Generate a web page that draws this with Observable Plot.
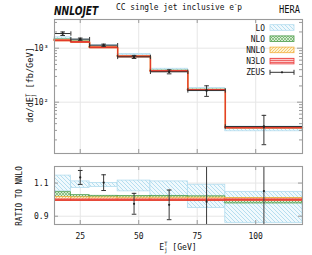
<!DOCTYPE html>
<html><head><meta charset="utf-8">
<script src="https://cdn.jsdelivr.net/npm/d3@7"></script>
<script src="https://cdn.jsdelivr.net/npm/@observablehq/plot@0.6"></script>
<style>
body{margin:0;background:#fff;}
#wrap{position:relative;width:312px;height:255px;overflow:hidden;font-family:"DejaVu Sans Mono",monospace;color:#111;background:#fff;}
#wrap svg.p{position:absolute;left:0;}
</style></head><body>
<svg width="0" height="0" style="position:absolute">
<defs>
<pattern id="pLO" patternUnits="userSpaceOnUse" width="4" height="4"><rect width="4" height="4" fill="#f0f9fd"/><path d="M0,0L4,4M-1,3L1,5M3,-1L5,1" stroke="#a6d7eb" stroke-width="0.8"/></pattern>
<pattern id="pNLO" patternUnits="userSpaceOnUse" width="3" height="3"><rect width="3" height="3" fill="#d9edd5"/><path d="M0,0L3,3M3,0L0,3" stroke="#5aa657" stroke-width="0.6"/></pattern>
<pattern id="pNNLO" patternUnits="userSpaceOnUse" width="3" height="3"><rect width="3" height="3" fill="#fdf1d2"/><path d="M0,3L3,0M-1,1L1,-1M2,4L4,2" stroke="#f1b845" stroke-width="0.7"/></pattern>
<pattern id="pN3LO" patternUnits="userSpaceOnUse" width="2" height="2"><rect width="2" height="2" fill="#fbcaca"/><path d="M0,0.5H2" stroke="#ee4d4d" stroke-width="0.8"/></pattern>
</defs></svg>
<div id="wrap"></div>
<script>
// ---- data ----
const edges = [14, 21, 29, 41, 55, 71, 87, 120];
const xTicks = [25, 50, 75, 100];
const yMajor = [100, 1000];
const yMajorLabels = ["10²", "10³"];
const yMinor = [20, 30, 40, 50, 60, 70, 80, 90, 200, 300, 400, 500, 600, 700, 800, 900, 2000, 3000];
const rTicks = [0.9, 1.1];

// top panel, dσ/dE [fb/GeV]
const nnlo     = [1390, 1300, 1030, 702, 375, 167, 33.6];
const n3lo     = [1386, 1296, 1027, 700, 374, 166.5, 33.5];
const loLow    = [1460, 1391, 1108, 737, 384, 159, 28.9];
const loHigh   = [1585, 1443, 1133, 783, 416, 182, 35.2];
const nloLow   = [1404, 1318, 1042, 709, 379, 167.7, 32.8];
const nloHigh  = [1450, 1335, 1054, 717, 383, 170.3, 33.9];
const nnloLow  = [1380, 1291, 1023, 697, 372, 166, 33.4];
const nnloHigh = [1411, 1319, 1045, 712, 380, 169.2, 34.1];
const n3loLow  = [1379, 1290, 1022, 697, 372, 165.7, 33.3];
const n3loHigh = [1393, 1303, 1033, 704, 376, 167.5, 33.7];
const zeus     = [1870, 1470, 1136, 690, 365, 165, 35.4];
const zeusLow  = [1720, 1400, 1080, 645, 335, 128, 16.3];
const zeusHigh = [2000, 1540, 1190, 735, 398, 201, 57];

// ratio panel (to NNLO)
const rLoLow    = [1.05, 1.07, 1.076, 1.05, 1.023, 0.95, 0.86];
const rLoHigh   = [1.145, 1.11, 1.10, 1.115, 1.11, 1.09, 1.047];
const rNloLow   = [1.012, 1.014, 1.012, 1.01, 1.01, 1.004, 0.977];
const rNloHigh  = [1.045, 1.027, 1.023, 1.022, 1.022, 1.02, 1.008];
const rNnloLow  = [0.993, 0.993, 0.993, 0.993, 0.993, 0.993, 0.993];
const rNnloHigh = [1.016, 1.014, 1.013, 1.012, 1.012, 1.012, 1.01];
const rN3lo     = [0.997, 0.997, 0.997, 0.997, 0.997, 0.997, 0.998];
const rN3loLow  = [0.992, 0.992, 0.992, 0.992, 0.992, 0.992, 0.993];
const rN3loHigh = [1.002, 1.002, 1.002, 1.002, 1.002, 1.002, 1.003];
const rZeus     = [1.35, 1.134, 1.103, 0.975, 0.969, 0.988, 1.052];
const rZeusLow  = [1.28, 1.092, 1.055, 0.912, 0.879, 0.77, 0.49];
const rZeusHigh = [1.42, 1.176, 1.15, 1.038, 1.058, 1.21, 1.70];

// ---- tables ----
const bins = edges.slice(0, -1).map((e, i) => ({
  x1: e, x2: edges[i + 1], xc: (e + edges[i + 1]) / 2,
  loLow: loLow[i], loHigh: loHigh[i], nloLow: nloLow[i], nloHigh: nloHigh[i],
  nnloLow: nnloLow[i], nnloHigh: nnloHigh[i], n3loLow: n3loLow[i], n3loHigh: n3loHigh[i],
  zeus: zeus[i], zeusLow: zeusLow[i], zeusHigh: zeusHigh[i],
  rLoLow: rLoLow[i], rLoHigh: rLoHigh[i], rNloLow: rNloLow[i], rNloHigh: rNloHigh[i],
  rNnloLow: rNnloLow[i], rNnloHigh: rNnloHigh[i], rN3loLow: rN3loLow[i], rN3loHigh: rN3loHigh[i],
  rZeus: rZeus[i], rZeusLow: rZeusLow[i], rZeusHigh: rZeusHigh[i]
}));
const steps = arr => edges.map((e, i) => ({x: e, y: arr[Math.min(i, arr.length - 1)]}));

const capH = {draw(c) { c.moveTo(-2.3, 0); c.lineTo(2.3, 0); }};
const capV = {draw(c) { c.moveTo(0, -2.2); c.lineTo(0, 2.2); }};

const W = 312, ML = 54, MR = 10;
const innerW = W - ML - MR;
const wrap = document.getElementById("wrap");
const style = {fontFamily: "DejaVu Sans Mono", fontSize: "8px", background: "transparent", overflow: "visible", color: "#111"};
const gridC = "#e6e6e6", frameC = "#9a9a9a";

// ---- top panel ----
const topH = 160, topMT = 19, topMB = 7, topIH = topH - topMT - topMB;
const topPlot = Plot.plot({
  width: W, height: topH, marginLeft: ML, marginRight: MR, marginTop: topMT, marginBottom: topMB,
  x: {domain: [14, 120], axis: null},
  y: {type: "log", domain: [11.2, 3400], axis: null},
  style,
  marks: [
    Plot.gridX(xTicks, {stroke: gridC, strokeOpacity: 1}),
    Plot.gridY(yMajor, {stroke: gridC, strokeOpacity: 1}),
    Plot.rect(bins, {x1: "x1", x2: "x2", y1: "loLow", y2: "loHigh", fill: "url(#pLO)", stroke: "#b3dcee", strokeWidth: 0.8}),
    Plot.rect(bins, {x1: "x1", x2: "x2", y1: "nloLow", y2: "nloHigh", fill: "url(#pNLO)", stroke: "#4f9d4c", strokeWidth: 0.9}),
    Plot.rect(bins, {x1: "x1", x2: "x2", y1: "nnloLow", y2: "nnloHigh", fill: "url(#pNNLO)", stroke: "#f2b040", strokeWidth: 0.9}),
    Plot.line(steps(nnlo), {x: "x", y: "y", curve: "step-after", stroke: "#f0a040", strokeWidth: 1.6}),
    Plot.rect(bins, {x1: "x1", x2: "x2", y1: "n3loLow", y2: "n3loHigh", fill: "url(#pN3LO)", stroke: "#ec4040", strokeWidth: 1}),
    Plot.line(steps(n3lo), {x: "x", y: "y", curve: "step-after", stroke: "#e23a2a", strokeWidth: 1.3}),
    // ZEUS
    Plot.ruleY(bins, {y: "zeus", x1: "x1", x2: "x2", stroke: "#333", strokeWidth: 1}),
    Plot.dot(bins, {x: "x1", y: "zeus", symbol: capV, stroke: "#333", fill: "none", strokeWidth: 1}),
    Plot.dot(bins, {x: "x2", y: "zeus", symbol: capV, stroke: "#333", fill: "none", strokeWidth: 1}),
    Plot.ruleX(bins, {x: "xc", y1: "zeusLow", y2: "zeusHigh", stroke: "#333", strokeWidth: 1}),
    Plot.dot(bins, {x: "xc", y: "zeusLow", symbol: capH, stroke: "#333", fill: "none", strokeWidth: 1}),
    Plot.dot(bins, {x: "xc", y: "zeusHigh", symbol: capH, stroke: "#333", fill: "none", strokeWidth: 1}),
    Plot.dot(bins, {x: "xc", y: "zeus", r: 1.2, fill: "#222", stroke: "none"}),
    // ticks inside the frame
    Plot.tickX(xTicks, {x: d => d, insetTop: topIH - 4, stroke: frameC}),
    Plot.tickX(xTicks, {x: d => d, insetBottom: topIH - 4, stroke: frameC}),
    Plot.tickY(yMajor, {y: d => d, insetRight: innerW - 5, stroke: frameC}),
    Plot.tickY(yMajor, {y: d => d, insetLeft: innerW - 5, stroke: frameC}),
    Plot.tickY(yMinor, {y: d => d, insetRight: innerW - 3, stroke: frameC}),
    Plot.tickY(yMinor, {y: d => d, insetLeft: innerW - 3, stroke: frameC}),
    Plot.axisY(yMajor, {tickSize: 0, tickPadding: 6, label: null, tickFormat: d => yMajorLabels[yMajor.indexOf(d)], fontSize: 8}),
    Plot.frame({stroke: frameC, strokeWidth: 1.1})
  ]
});
topPlot.classList.add("p"); topPlot.style.top = "0px";
wrap.appendChild(topPlot);

// ---- ratio panel ----
const botTop = 155, botH = 100, botMT = 11, botMB = 31, botIH = botH - botMT - botMB;
const botPlot = Plot.plot({
  width: W, height: botH, marginLeft: ML, marginRight: MR, marginTop: botMT, marginBottom: botMB,
  x: {domain: [14, 120], axis: null},
  y: {domain: [0.85, 1.2], axis: null},
  style,
  marks: [
    Plot.gridX(xTicks, {stroke: gridC, strokeOpacity: 1}),
    Plot.gridY(rTicks, {stroke: gridC, strokeOpacity: 1}),
    Plot.rect(bins, {x1: "x1", x2: "x2", y1: "rLoLow", y2: "rLoHigh", fill: "url(#pLO)", stroke: "#b3dcee", strokeWidth: 0.8, clip: true}),
    Plot.rect(bins, {x1: "x1", x2: "x2", y1: "rNloLow", y2: "rNloHigh", fill: "url(#pNLO)", stroke: "#4f9d4c", strokeWidth: 0.8, clip: true}),
    Plot.rect(bins, {x1: "x1", x2: "x2", y1: "rNnloLow", y2: "rNnloHigh", fill: "url(#pNNLO)", stroke: "#f2b040", strokeWidth: 0.8, clip: true}),
    Plot.rect(bins, {x1: "x1", x2: "x2", y1: "rN3loLow", y2: "rN3loHigh", fill: "url(#pN3LO)", stroke: "#ec4a4a", strokeWidth: 0.6, clip: true}),
    Plot.line(steps(rN3lo), {x: "x", y: "y", curve: "step-after", stroke: "#e23a2a", strokeWidth: 1.3, clip: true}),
    Plot.ruleX(bins, {x: "xc", y1: "rZeusLow", y2: "rZeusHigh", stroke: "#3a3a3a", strokeWidth: 1, clip: true}),
    Plot.dot(bins, {x: "xc", y: "rZeusLow", symbol: capH, stroke: "#333", fill: "none", strokeWidth: 1, clip: true}),
    Plot.dot(bins, {x: "xc", y: "rZeusHigh", symbol: capH, stroke: "#333", fill: "none", strokeWidth: 1, clip: true}),
    Plot.dot(bins, {x: "xc", y: "rZeus", r: 1.1, fill: "#222", stroke: "none", clip: true}),
    Plot.tickX(xTicks, {x: d => d, insetTop: botIH - 4, stroke: frameC}),
    Plot.tickX(xTicks, {x: d => d, insetBottom: botIH - 4, stroke: frameC}),
    Plot.tickY(rTicks, {y: d => d, insetRight: innerW - 4, stroke: frameC}),
    Plot.tickY(rTicks, {y: d => d, insetLeft: innerW - 4, stroke: frameC}),
    Plot.axisY(rTicks, {tickSize: 0, tickPadding: 6, label: null, tickFormat: d => d.toFixed(1), fontSize: 8}),
    Plot.axisX(xTicks, {tickSize: 0, tickPadding: 9, label: null, tickFormat: d => String(d), fontSize: 8}),
    Plot.frame({stroke: frameC, strokeWidth: 1.1})
  ]
});
botPlot.classList.add("p"); botPlot.style.top = botTop + "px";
wrap.appendChild(botPlot);

// ---- legend swatches ----
const NS = "http://www.w3.org/2000/svg";
const leg = document.createElementNS(NS, "svg");
leg.setAttribute("width", W); leg.setAttribute("height", 255);
leg.setAttribute("class", "p"); leg.style.top = "0px";
const legRows = [
  {name: "LO", fill: "url(#pLO)", stroke: "#b3dcee"},
  {name: "NLO", fill: "url(#pNLO)", stroke: "#4f9d4c"},
  {name: "NNLO", fill: "url(#pNNLO)", stroke: "#f2b040"},
  {name: "N3LO", fill: "url(#pN3LO)", stroke: "#ec4040"},
  {name: "ZEUS"}
];
const legY = [27.5, 38.7, 49.9, 61.1, 72.3];
const sx0 = 270, sx1 = 294;
legRows.forEach((r, i) => {
  const y = legY[i];
  if (r.fill) {
    const rc = document.createElementNS(NS, "rect");
    rc.setAttribute("x", sx0); rc.setAttribute("y", y - 2.8);
    rc.setAttribute("width", sx1 - sx0); rc.setAttribute("height", 5.6);
    rc.setAttribute("fill", r.fill); rc.setAttribute("stroke", r.stroke); rc.setAttribute("stroke-width", 0.8);
    leg.appendChild(rc);
  } else {
    const p = document.createElementNS(NS, "path");
    p.setAttribute("d", `M${sx0},${y}H${sx1}M${sx0},${y - 2.5}V${y + 2.5}M${sx1},${y - 2.5}V${y + 2.5}`);
    p.setAttribute("stroke", "#333"); p.setAttribute("fill", "none");
    leg.appendChild(p);
    const c = document.createElementNS(NS, "circle");
    c.setAttribute("cx", (sx0 + sx1) / 2); c.setAttribute("cy", y); c.setAttribute("r", 1.1); c.setAttribute("fill", "#222");
    leg.appendChild(c);
  }
});
wrap.appendChild(leg);

// ---- texts ----
function addText(html, x, y, o = {}) {
  const a = document.createElement("div");
  a.style.cssText = `position:absolute;left:${x}px;top:${y}px;width:0;height:0;` + (o.rot ? `transform:rotate(${o.rot}deg);transform-origin:0 0;` : "");
  const s = document.createElement("div");
  const tx = o.anchor === "end" ? "-100%" : o.anchor === "start" ? "0" : "-50%";
  const origin = o.anchor === "end" ? "100% 50%" : o.anchor === "start" ? "0 50%" : "50% 50%";
  s.style.cssText = `position:absolute;left:0;top:0;white-space:nowrap;line-height:1;font-size:${o.size || 9}px;font-family:${o.family || '"DejaVu Sans Mono"'};font-weight:${o.weight || "normal"};font-style:${o.style || "normal"};color:${o.color || "#111"};transform:translate(${tx},-50%) scaleX(${o.sx || 1});transform-origin:${origin};`;
  s.innerHTML = html;
  a.appendChild(s);
  wrap.appendChild(a);
}
const ET = 'E<span style="font-size:.65em;position:relative;top:-.55em">T</span><span style="font-size:.65em;position:relative;top:.35em;margin-left:-.6em">j</span>';
addText("NNLOJET", 54, 10, {family: '"DejaVu Sans"', size: 13, weight: "bold", style: "italic", anchor: "start", sx: 0.7});
addText('CC single jet inclusive e<span style="font-size:.7em;position:relative;top:-.5em">-</span>p', 179, 6.5, {size: 9, sx: 0.87});
addText("HERA", 300, 10.3, {size: 10, anchor: "end", sx: 0.87});
legRows.forEach((r, i) => addText(r.name, 264.5, legY[i], {size: 9, anchor: "end", sx: 0.87}));
addText("d&sigma;/d" + ET + " [fb/GeV]", 30, 85, {size: 9.5, rot: -90, sx: 0.9});
addText("RATIO TO NNLO", 19, 196, {size: 9.5, rot: -90, sx: 0.8});
addText(ET + " [GeV]", 178, 246.5, {size: 9, sx: 0.9});
</script>
</body></html>
